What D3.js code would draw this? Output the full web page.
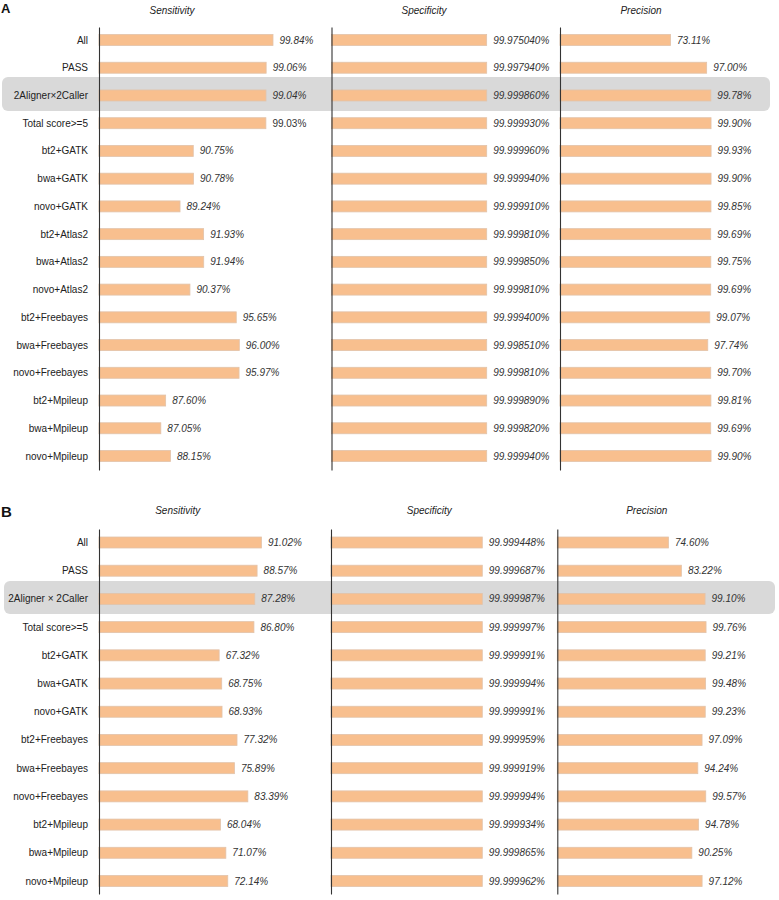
<!DOCTYPE html>
<html><head><meta charset="utf-8">
<script src="https://cdn.jsdelivr.net/npm/d3@7"></script>
<style>
html,body{margin:0;padding:0;background:#fff;}
svg{display:block;font-family:"Liberation Sans",Arial,sans-serif;}
</style></head>
<body>
<svg id="chart" width="779" height="900"></svg>
<script>
// ---------- Data ----------
const metrics = ["Sensitivity", "Specificity", "Precision"];

const categoriesA = ["All","PASS","2Aligner\u00d72Caller","Total score>=5",
  "bt2+GATK","bwa+GATK","novo+GATK","bt2+Atlas2","bwa+Atlas2","novo+Atlas2",
  "bt2+Freebayes","bwa+Freebayes","novo+Freebayes","bt2+Mpileup","bwa+Mpileup","novo+Mpileup"];
const sensitivityA = [99.84,99.06,99.04,99.03,90.75,90.78,89.24,91.93,91.94,90.37,95.65,96.00,95.97,87.60,87.05,88.15];
const specificityA = [99.975040,99.997940,99.999860,99.999930,99.999960,99.999940,99.999910,99.999810,99.999850,99.999810,99.999400,99.998510,99.999810,99.999890,99.999820,99.999940];
const precisionA   = [73.11,97.00,99.78,99.90,99.93,99.90,99.85,99.69,99.75,99.69,99.07,97.74,99.70,99.81,99.69,99.90];

const categoriesB = ["All","PASS","2Aligner \u00d7 2Caller","Total score>=5",
  "bt2+GATK","bwa+GATK","novo+GATK","bt2+Freebayes","bwa+Freebayes","novo+Freebayes",
  "bt2+Mpileup","bwa+Mpileup","novo+Mpileup"];
const sensitivityB = [91.02,88.57,87.28,86.80,67.32,68.75,68.93,77.32,75.89,83.39,68.04,71.07,72.14];
const specificityB = [99.999448,99.999687,99.999987,99.999997,99.999991,99.999994,99.999991,99.999959,99.999919,99.999994,99.999934,99.999865,99.999962];
const precisionB   = [74.60,83.22,99.10,99.76,99.21,99.48,99.23,97.09,94.24,99.57,94.78,90.25,97.12];

// ---------- Layout ----------
const svg = d3.select("#chart");
const barH = 11;
const barFill = "#f8bf8e", barStroke = "#e2c3aa";

const panels = [
  { letter:"A", letterY:13, letterSize:13, headerY:14, cats:categoriesA,
    series:[sensitivityA, specificityA, precisionA],
    rowRange:[40, 456], axisTop:27, axisBottom:470,
    hl:{x:2, y:77, w:768, h:34},
    cols:[
      {domain:[80,100], range:[99,274.4], fmt:".2f", header:172},
      {domain:[0,100], range:[331.5,486.7], fmt:".6f", header:424},
      {domain:[0,100], range:[560,711.2], fmt:".2f", header:641}
    ],
    uprightLabel:{col:0,row:3}
  },
  { letter:"B", letterY:517, letterSize:15, headerY:514, cats:categoriesB,
    series:[sensitivityB, specificityB, precisionB],
    rowRange:[542.5, 881], axisTop:529, axisBottom:894,
    hl:{x:4, y:581, w:771, h:33},
    cols:[
      {domain:[0,100], range:[99,277.5], fmt:".2f", header:177.7},
      {domain:[0,100], range:[331,482.3], fmt:".6f", header:429.3},
      {domain:[0,100], range:[557.3,706.4], fmt:".2f", header:646.7}
    ],
    uprightLabel:null
  }
];

panels.forEach(p => {
  const g = svg.append("g");
  const y = d3.scalePoint().domain(p.cats).range(p.rowRange);

  // highlight band
  g.append("rect")
    .attr("x", p.hl.x).attr("y", p.hl.y).attr("width", p.hl.w).attr("height", p.hl.h)
    .attr("rx", 6).attr("ry", 6).attr("fill", "#d9d9d9");

  // panel letter
  g.append("text").attr("x", 1).attr("y", p.letterY)
    .attr("font-size", p.letterSize).attr("font-weight", "bold").attr("fill", "#111")
    .text(p.letter);

  // category labels
  g.selectAll("text.cat").data(p.cats).join("text")
    .attr("class","cat")
    .attr("x", 88).attr("y", d => y(d))
    .attr("dy","0.35em").attr("text-anchor","end")
    .attr("font-size", 10).attr("fill", "#222")
    .text(d => d);

  p.cols.forEach((c, ci) => {
    const x = d3.scaleLinear().domain(c.domain).range(c.range);
    const vals = p.series[ci];
    const cg = g.append("g");

    // header
    cg.append("text").attr("x", c.header).attr("y", p.headerY)
      .attr("text-anchor","middle").attr("font-size",10)
      .attr("font-style","italic").attr("fill","#222")
      .text(metrics[ci]);

    // bars
    cg.selectAll("rect.bar").data(vals).join("rect")
      .attr("class","bar")
      .attr("x", x(c.domain[0]))
      .attr("y", (d,i) => y(p.cats[i]) - barH/2)
      .attr("width", d => x(d) - x(c.domain[0]))
      .attr("height", barH)
      .attr("fill", barFill).attr("stroke", barStroke).attr("stroke-width", 0.8);

    // value labels
    const f = d3.format(c.fmt);
    cg.selectAll("text.val").data(vals).join("text")
      .attr("class","val")
      .attr("x", d => x(d) + 6.5)
      .attr("y", (d,i) => y(p.cats[i]))
      .attr("dy","0.35em")
      .attr("font-size",10).attr("fill","#333")
      .attr("font-style", (d,i) => (p.uprightLabel && p.uprightLabel.col===ci && p.uprightLabel.row===i) ? "normal" : "italic")
      .text(d => f(d) + "%");

    // axis line (left edge)
    const axis = d3.axisLeft(d3.scaleLinear().range([p.axisTop, p.axisBottom])).ticks(0).tickSize(0);
    const ag = cg.append("g").attr("transform", `translate(${x(c.domain[0])},0)`).call(axis);
    ag.select(".domain").attr("stroke","#333").attr("stroke-width",1.1);
    ag.selectAll("text").remove();
  });
});
</script>
</body></html>
